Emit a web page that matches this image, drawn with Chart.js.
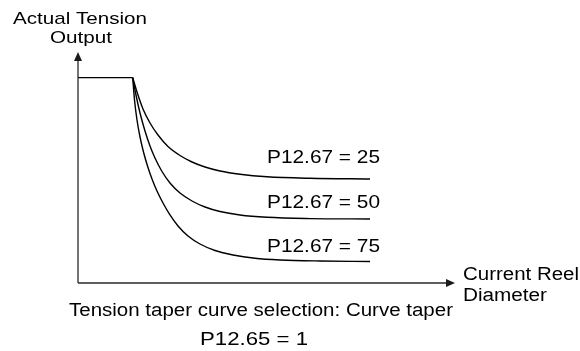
<!DOCTYPE html>
<html>
<head>
<meta charset="utf-8">
<script src="https://cdn.jsdelivr.net/npm/chart.js@4/dist/chart.umd.min.js"></script>
<style>
html,body{margin:0;padding:0;background:#fff;}
#wrap{width:580px;height:351px;position:relative;}
</style>
</head>
<body>
<div id="wrap"><canvas id="c" width="580" height="351"></canvas></div>
<script>
// Data (x: current reel diameter, y: actual tension output, arbitrary units 0-100)
const flatX = [0, 14.51];
const flatY = [88.9, 88.9];
const curve25X = [14.51, 15.65, 17.24, 19.10, 21.22, 23.87, 27.06, 30.24, 33.69, 37.67, 42.97, 50.13, 61.54, 77.45];
const curve25Y = [88.9, 82.68, 75.32, 69.26, 64.07, 59.09, 55.19, 52.38, 50.22, 48.48, 47.06, 45.97, 45.32, 45.02];
const curve50X = [14.51, 15.38, 16.45, 17.77, 19.10, 20.42, 22.28, 24.40, 27.06, 30.24, 33.69, 37.67, 42.97, 50.13, 61.54, 77.45];
const curve50Y = [88.9, 81.39, 73.59, 65.80, 59.31, 54.11, 48.27, 43.29, 38.96, 35.50, 32.90, 30.95, 29.44, 28.44, 27.88, 27.71];
const curve75X = [14.51, 14.99, 15.65, 16.45, 17.37, 18.44, 19.63, 20.95, 22.55, 24.40, 26.53, 29.18, 32.36, 36.34, 41.11, 46.95, 53.58, 64.19, 77.45];
const curve75Y = [88.9, 79.22, 70.56, 63.20, 56.71, 50.65, 45.02, 39.83, 34.63, 29.44, 24.68, 20.35, 16.88, 14.07, 12.12, 10.69, 9.96, 9.52, 9.31];
const seriesLabels = ['P12.67 = 25', 'P12.67 = 50', 'P12.67 = 75'];
const yTitle = ['Actual Tension', 'Output'];
const xTitle = ['Current Reel', 'Diameter'];
const caption = ['Tension taper curve selection: Curve taper', 'P12.65 = 1'];

const pts = (xs, ys) => xs.map((x, i) => ({x: x, y: ys[i]}));
const FONT = '"Liberation Sans", Arial, sans-serif';

const lineStyle = {borderColor: '#000', borderWidth: 1.4, pointRadius: 0, fill: false, showLine: true};

// draw text stretched horizontally to a given width, starting at left x
function fitText(ctx, text, left, base, width, px) {
  ctx.font = px + 'px ' + FONT;
  const w = ctx.measureText(text).width;
  const sx = width / w;
  ctx.save();
  ctx.translate(left, base);
  ctx.scale(sx, 1);
  ctx.textAlign = 'left';
  ctx.fillText(text, 0, 0);
  ctx.restore();
}

const annot = {
  id: 'annot',
  afterDraw(chart) {
    const ctx = chart.ctx;
    const xs = chart.scales.x, ys = chart.scales.y;
    ctx.save();
    // axes
    ctx.strokeStyle = '#2a2a2a';
    ctx.fillStyle = '#1a1a1a';
    ctx.lineWidth = 1.3;
    const ox = xs.getPixelForValue(0), oy = ys.getPixelForValue(0);
    const yTop = ys.getPixelForValue(100), xRight = xs.getPixelForValue(100);
    ctx.beginPath();
    ctx.moveTo(ox, oy); ctx.lineTo(ox, yTop + 7);
    ctx.moveTo(ox, oy); ctx.lineTo(xRight - 7, oy);
    ctx.stroke();
    ctx.beginPath();
    ctx.moveTo(ox, yTop); ctx.lineTo(ox - 4, yTop + 9); ctx.lineTo(ox + 4, yTop + 9); ctx.closePath();
    ctx.fill();
    ctx.beginPath();
    ctx.moveTo(xRight, oy); ctx.lineTo(xRight - 9, oy - 4); ctx.lineTo(xRight - 9, oy + 4); ctx.closePath();
    ctx.fill();
    // texts
    ctx.fillStyle = '#000';
    ctx.textBaseline = 'alphabetic';
    fitText(ctx, yTitle[0], 13, 24, 134, 17);
    fitText(ctx, yTitle[1], 50, 43, 62, 17);
    fitText(ctx, xTitle[0], 463, 280, 116, 18);
    fitText(ctx, xTitle[1], 463, 301, 84, 18);
    fitText(ctx, caption[0], 69, 316, 384, 18);
    fitText(ctx, caption[1], 200, 345, 108, 18);
    fitText(ctx, seriesLabels[0], 267, 163, 113, 18);
    fitText(ctx, seriesLabels[1], 267, 208, 113, 18);
    fitText(ctx, seriesLabels[2], 267, 251.5, 113, 18);
    ctx.restore();
  }
};

new Chart(document.getElementById('c'), {
  type: 'scatter',
  data: {
    datasets: [
      Object.assign({label: 'flat', data: pts(flatX, flatY), tension: 0}, lineStyle),
      Object.assign({label: seriesLabels[0], data: pts(curve25X, curve25Y), cubicInterpolationMode: 'monotone'}, lineStyle),
      Object.assign({label: seriesLabels[1], data: pts(curve50X, curve50Y), cubicInterpolationMode: 'monotone'}, lineStyle),
      Object.assign({label: seriesLabels[2], data: pts(curve75X, curve75Y), cubicInterpolationMode: 'monotone'}, lineStyle)
    ]
  },
  options: {
    responsive: false,
    animation: false,
    layout: {padding: {left: 78, right: 125, top: 52, bottom: 68}},
    plugins: {legend: {display: false}, tooltip: {enabled: false}},
    scales: {
      x: {type: 'linear', min: 0, max: 100, display: false},
      y: {type: 'linear', min: 0, max: 100, display: false}
    }
  },
  plugins: [annot]
});
</script>
</body>
</html>
